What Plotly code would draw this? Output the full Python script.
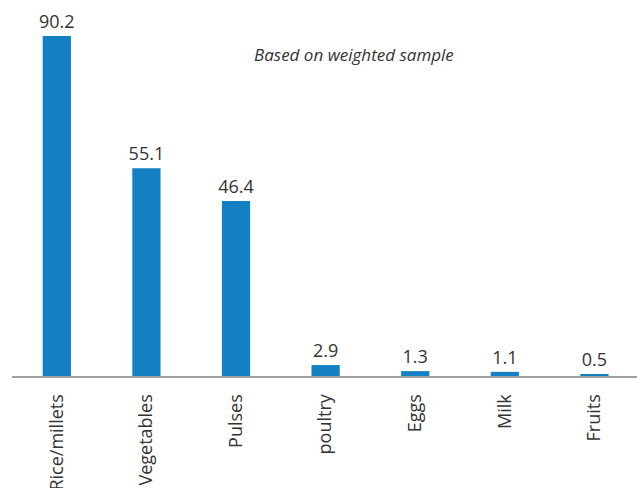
import plotly.graph_objects as go

categories = ["Rice/millets", "Vegetables", "Pulses", "poultry", "Eggs", "Milk", "Fruits"]
values = [90.2, 55.1, 46.4, 2.9, 1.3, 1.1, 0.5]
value_labels = ["90.2", "55.1", "46.4", "2.9", "1.3", "1.1", "0.5"]

fig = go.Figure(go.Bar(
    x=categories, y=values, text=value_labels, textposition="outside",
    marker=dict(color="#1480c4", line=dict(width=0)),
    width=0.315, cliponaxis=False, constraintext="none",
    textfont=dict(family="Open Sans", size=18, color="#333333"),
))

fig.update_layout(
    width=637, height=488,
    margin=dict(l=12, r=0, t=36, b=112),
    paper_bgcolor="white", plot_bgcolor="white",
    font=dict(family="Open Sans", size=18, color="#333333"),
    showlegend=False,
    xaxis=dict(range=[-0.5, 6.475], tickangle=-90, showline=True, linecolor="#a0a0a0",
               linewidth=2, ticks="", showgrid=False, automargin=False,
               ticklabelstandoff=9,
               tickfont=dict(family="Open Sans", size=18, color="#333333")),
    yaxis=dict(range=[0, 90.2], visible=False, showgrid=False, zeroline=False),
    annotations=[dict(text="<i>Based on weighted sample</i>", xref="paper", yref="paper",
                      x=0.547, y=0.947, xanchor="center", yanchor="middle", showarrow=False,
                      font=dict(family="Open Sans", size=17, color="#333333"))],
)

fig.write_html("out.html", config={"displayModeBar": False},
               post_script="document.body.style.margin='0';")
